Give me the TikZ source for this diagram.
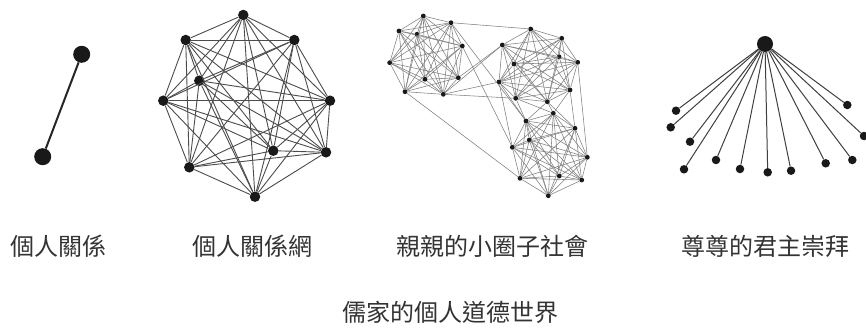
\documentclass[tikz,border=0pt]{standalone}
\usepackage{fontspec}
\setmainfont{Noto Sans CJK TC}
\begin{document}
\begin{tikzpicture}[x=1pt,y=-1pt,
  bigdot/.style={circle,fill=black!90,inner sep=0pt,minimum size=17pt},
  middot/.style={circle,fill=black!90,inner sep=0pt,minimum size=10.5pt},
  smalldot/.style={circle,fill=black!90,inner sep=0pt,minimum size=4.8pt},
  leafdot/.style={circle,fill=black!90,inner sep=0pt,minimum size=8.5pt},
  hubdot/.style={circle,fill=black!90,inner sep=0pt,minimum size=16pt},
  thickedge/.style={draw=black!85,line width=2pt},
  netedge/.style={draw=black!70,line width=0.9pt},
  fineedge/.style={draw=black!50,line width=0.55pt},
  spoke/.style={draw=black!75,line width=1pt},
  lbl/.style={font=\fontsize{24pt}{26pt}\selectfont,text=black!80,inner sep=0pt}]
\useasboundingbox (0,0) rectangle (866,329);
\fill[white] (0,0) rectangle (866,329);

% ---- network 1
\node[bigdot] (s1) at (81.7,54.3) {};
\node[bigdot] (s2) at (42.7,156.7) {};
\draw[thickedge] (s1) -- (s2);

% ---- network 2 (complete graph)
\foreach \n/\x/\y in {0/243.3/15, 1/185.7/40, 2/294.3/40, 3/199.3/80.7, 4/163.3/100.7,
                      5/330/100.7, 6/273.3/150.7, 7/326/152.3, 8/189.3/167.3, 9/255/196.7}
  \node[middot] (p\n) at (\x,\y) {};
\foreach \i in {0,...,9}
  \foreach \j in {0,...,9}
    {\ifnum\i<\j \draw[netedge] (p\i) -- (p\j);\fi}

% ---- network 3 (three clusters)
\foreach \n/\x/\y in {1/423.3/16, 2/451/22.7, 3/399/31, 4/417/34.3, 5/462.3/46,
                      6/389.7/62.7, 7/425/79.3, 8/458.3/77.7, 9/405/91.7, 10/443.3/94.3}
  \node[smalldot] (a\n) at (\x,\y) {};
\foreach \n/\x/\y in {1/530.7/29, 2/561.7/38.3, 3/502.3/45, 4/559/56.7, 5/577.7/62.3,
                      6/514/64, 7/499/82, 8/570/90, 9/515.7/98.3, 10/547.3/101.7}
  \node[smalldot] (b\n) at (\x,\y) {};
\foreach \n/\x/\y in {1/553.3/113.3, 2/526/121, 3/575/128.3, 4/529.3/140, 5/512.3/147.3,
                      6/587.3/157.3, 7/520/178.3, 8/559.3/176, 9/581.7/180, 10/548.3/195.7}
  \node[smalldot] (c\n) at (\x,\y) {};
\foreach \g in {a,b,c}
  \foreach \i in {1,...,10}
    \foreach \j in {1,...,10}
      {\ifnum\i<\j \draw[fineedge] (\g\i) -- (\g\j);\fi}
\foreach \u/\v in {a2/b1, a8/b3, a10/b3, a10/b7, a10/b9, a9/c7, a5/c5, a2/c2,
                   b7/c2, b7/c5, b9/c1, b9/c2, b10/c1, b10/c2, b8/c1, b8/c3, b5/c6, b10/c3}
  \draw[fineedge] (\u) -- (\v);

% ---- network 4 (star)
\node[hubdot] (h) at (765,44) {};
\foreach \n/\x/\y in {1/676/110.7, 2/670.7/127.3, 3/690/141.7, 4/684/169.3, 5/716/160,
                      6/740/169, 7/767.7/172.3, 8/791/170.7, 9/825.7/163.3, 10/852.3/160,
                      11/847.3/105, 12/864/136}
  {\node[leafdot] (l\n) at (\x,\y) {};
   \draw[spoke] (h) -- (l\n);}

% ---- labels
\node[lbl] (t1) at (58,246) {個人關係};
\node[lbl] (t2) at (252,246) {個人關係網};
\node[lbl] (t3) at (492,246) {親親的小圈子社會};
\node[lbl] (t4) at (765,246) {尊尊的君主崇拜};
\node[lbl] (t5) at (450,312) {儒家的個人道德世界};
\end{tikzpicture}
\end{document}
